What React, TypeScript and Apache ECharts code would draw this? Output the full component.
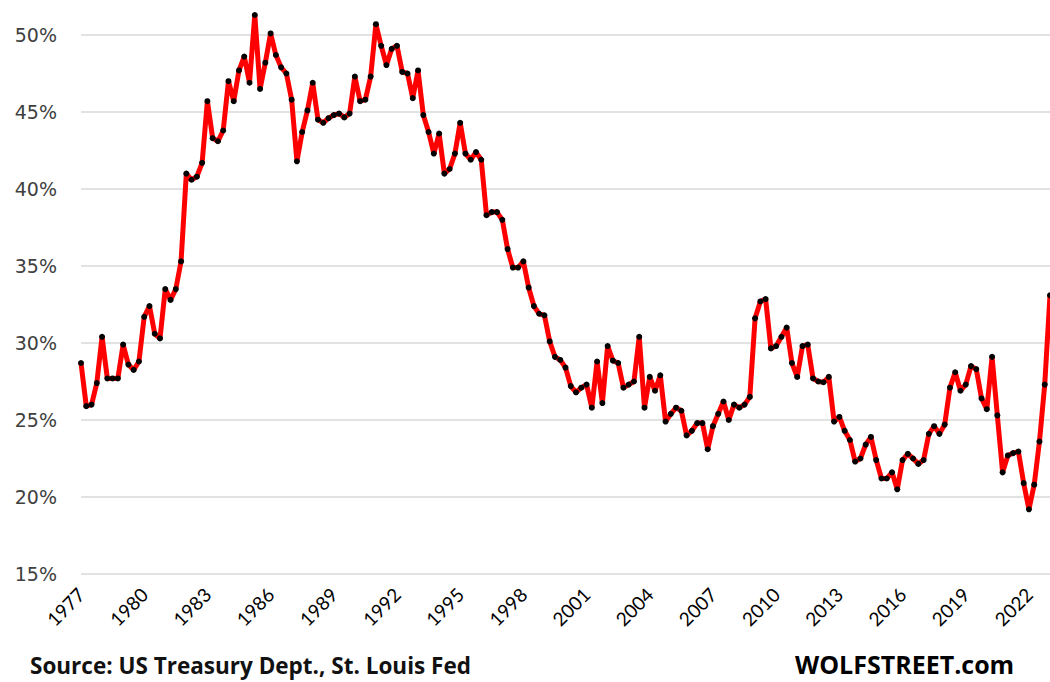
import React, { useEffect, useRef } from "react";
import * as echarts from "echarts";

const startYear = 1977;
const tickYears = [1977, 1980, 1983, 1986, 1989, 1992, 1995, 1998, 2001, 2004, 2007, 2010, 2013, 2016, 2019, 2022];
const yTicks = [15, 20, 25, 30, 35, 40, 45, 50];

// Quarterly values (%), 1977 Q1 .. 2023 Q1
const values1977to1984 = [
  28.7, 25.9, 26.0, 27.4, 30.4, 27.7, 27.7, 27.7, 29.9, 28.6, 28.25, 28.8,
  31.7, 32.4, 30.6, 30.3, 33.5, 32.8, 33.5, 35.3, 41.0, 40.6, 40.8, 41.7,
  45.7, 43.3, 43.1, 43.8, 47.0, 45.7, 47.7, 48.6,
];
const values1985to1992 = [
  46.9, 51.3, 46.5, 48.2, 50.1, 48.7, 47.9, 47.5, 45.8, 41.8, 43.7, 45.1,
  46.9, 44.5, 44.3, 44.6, 44.8, 44.9, 44.65, 44.9, 47.3, 45.7, 45.8, 47.3,
  50.7, 49.3, 48.05, 49.1, 49.3, 47.6, 47.5,
];
const values1992to2000 = [
  45.9, 47.7, 44.8, 43.7, 42.3, 43.6, 41.0, 41.3, 42.3, 44.3, 42.3, 41.9,
  42.4, 41.9, 38.3, 38.5, 38.5, 38.0, 36.1, 34.9, 34.9, 35.3, 33.6, 32.4,
  31.9, 31.8, 30.1, 29.1, 28.9, 28.4, 27.2,
];
const values2000to2008 = [
  26.8, 27.1, 27.3, 25.8, 28.8, 26.1, 29.8, 28.85, 28.7, 27.1, 27.3, 27.5,
  30.4, 25.8, 27.8, 26.9, 27.9, 24.9, 25.4, 25.8, 25.6, 24.0, 24.3, 24.8,
  24.8, 23.1, 24.6, 25.4, 26.2, 25.0, 26.0,
];
const values2008to2016 = [
  25.8, 26.0, 26.5, 31.6, 32.7, 32.85, 29.65, 29.8, 30.4, 31.0, 28.7, 27.8,
  29.8, 29.9, 27.7, 27.5, 27.45, 27.8, 24.9, 25.2, 24.3, 23.7, 22.3, 22.5,
  23.4, 23.9, 22.4, 21.2, 21.2, 21.6, 20.5, 22.4,
];
const values2016to2023 = [
  22.8, 22.5, 22.15, 22.4, 24.1, 24.6, 24.1, 24.7, 27.1, 28.1, 26.9, 27.3,
  28.5, 28.3, 26.4, 25.7, 29.1, 25.3, 21.6, 22.7, 22.85, 22.95, 20.9, 19.2,
  20.8, 23.6, 27.3, 33.1,
];

const values = [
  ...values1977to1984,
  ...values1985to1992,
  ...values1992to2000,
  ...values2000to2008,
  ...values2008to2016,
  ...values2016to2023,
];

const sourceText = "Source: US Treasury Dept., St. Louis Fed";
const brandText = "WOLFSTREET.com";

// The chart box starts 42px above the page so that the (hidden) 55% line lies off-screen.
const OFFSET = 42;

export default function App() {
  const ref = useRef<HTMLDivElement>(null);
  useEffect(() => {
    if (!ref.current) return;
    const chart = echarts.init(ref.current, null, { renderer: "svg" });
    const lastIndex = values.length - 1;
    chart.setOption({
      animation: false,
      backgroundColor: "#ffffff",
      grid: { left: 81, right: 0, top: 0, bottom: 108, containLabel: false },
      xAxis: {
        type: "value",
        min: 0,
        max: lastIndex,
        interval: 12,
        axisLine: { show: false },
        axisTick: { show: false },
        splitLine: { show: false },
        axisLabel: {
          rotate: 45,
          margin: 17,
          fontFamily: "Lato",
          fontSize: 19,
          color: "#000000",
          showMaxLabel: false,
          formatter: (v: number) => {
            const y = startYear + v / 4;
            return tickYears.indexOf(y) >= 0 ? String(y) : "";
          },
        },
      },
      yAxis: {
        type: "value",
        min: 15,
        max: 55,
        interval: 5,
        axisLine: { show: false },
        axisTick: { show: false },
        splitLine: { show: true, lineStyle: { color: "#d9d9d9", width: 1.5 } },
        axisLabel: {
          margin: 24,
          fontFamily: "DejaVu Sans",
          fontSize: 19,
          color: "#404040",
          formatter: (v: number) => (yTicks.indexOf(v) >= 0 ? v + "%" : ""),
        },
      },
      series: [
        {
          type: "line",
          data: values.map((v, i) => [i, v]),
          lineStyle: { color: "#ff0000", width: 5 },
          itemStyle: { color: "#000000" },
          symbol: "circle",
          symbolSize: 6,
          showSymbol: true,
          clip: true,
        },
      ],
      graphic: [
        {
          type: "text",
          left: 30,
          top: 654 + OFFSET,
          style: {
            text: sourceText,
            fontFamily: "Open Sans",
            fontWeight: "bold",
            fontSize: 22.5,
            fill: "#111111",
          },
        },
        {
          type: "text",
          left: 795,
          top: 651 + OFFSET,
          style: {
            text: brandText,
            fontFamily: "Open Sans",
            fontWeight: "bold",
            fontSize: 25,
            fill: "#000000",
          },
        },
      ],
    });
    return () => chart.dispose();
  }, []);
  return (
    <div
      ref={ref}
      style={{ position: "absolute", left: 0, top: -OFFSET, width: 1050, height: 682 + OFFSET }}
    />
  );
}
